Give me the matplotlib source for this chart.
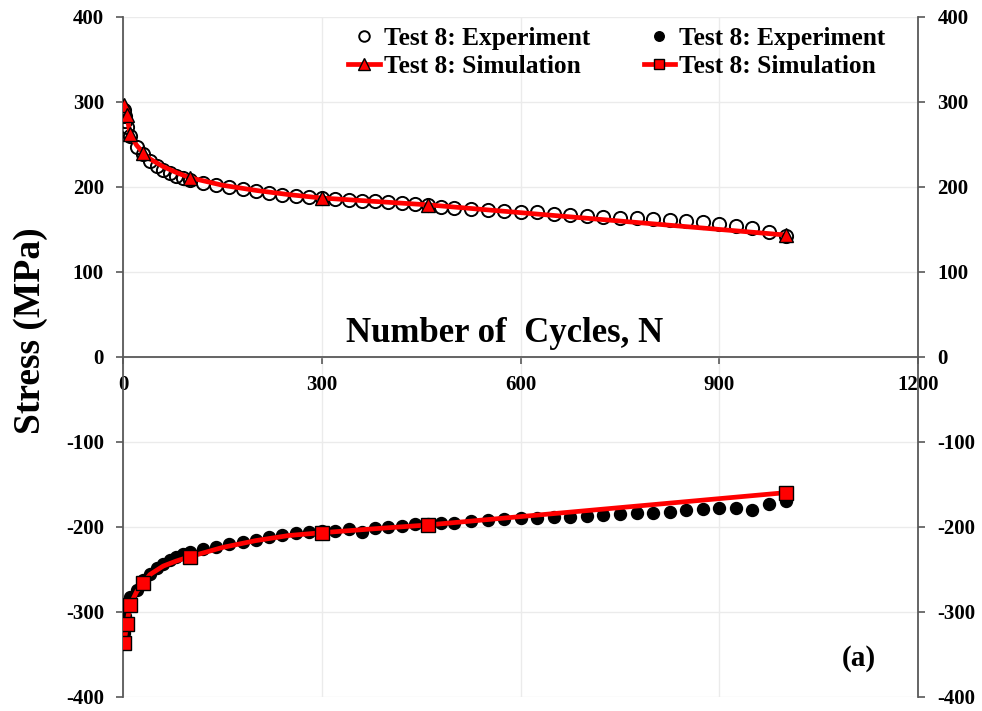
import matplotlib
matplotlib.use("Agg")
import matplotlib.pyplot as plt

plt.rcParams['font.family'] = ['Liberation Serif', 'DejaVu Serif']
plt.rcParams['font.weight'] = 'bold'
plt.rcParams['axes.unicode_minus'] = False

# Tension side (positive stress), Test 8 experiment
n_exp_top = [1, 2, 3, 5, 10, 20, 30, 40, 50, 60, 70, 80, 90, 100,
             120, 140, 160, 180, 200, 220, 240, 260, 280, 300, 320, 340,
             360, 380, 400, 420, 440, 460, 480, 500, 525, 550, 575, 600,
             625, 650, 675, 700, 725, 750, 775, 800, 825, 850, 875, 900,
             925, 950, 975, 1000]
s_exp_top = [290, 284, 278, 270, 260, 247, 239, 231, 225, 220, 216, 213, 210, 208,
             205, 202, 200, 198, 195, 193, 191, 189, 188, 187, 186, 185,
             184, 183, 182, 181.5, 180.5, 179, 177, 175, 174, 173, 172, 171,
             170, 168.5, 167, 166, 165, 164, 163, 162, 161, 160, 158.5, 156.5,
             154.5, 151.5, 147.5, 142]

# Compression side (negative stress), Test 8 experiment
n_exp_bot = n_exp_top
s_exp_bot = [-325, -312, -305, -290, -282, -274, -262, -255, -248, -243, -239, -235, -232, -230,
             -226, -223, -220.5, -218, -215, -211.5, -209, -207.5, -205.5, -205, -204.5, -202.5,
             -205.5, -201, -199.5, -199, -197, -196.5, -195.5, -195, -193.5, -192, -191, -190,
             -189, -188.5, -188, -186.5, -186, -184.5, -184, -183, -182, -180, -179, -178,
             -177.5, -180, -173.5, -169.5]

# Simulation curves
n_sim_curve = [1, 5, 10, 20, 30, 40, 60, 80, 100, 150, 200, 250, 300, 380, 460, 1000]
s_sim_curve_top = [296, 285, 262, 249, 240, 233, 224, 217, 211, 202, 196, 191, 187, 183, 179, 143.5]
s_sim_curve_bot = [-336, -314, -292, -276, -266, -256, -246, -240, -235, -224, -216, -210,
                   -206.7, -202, -197.6, -159.6]

# Simulation output points shown with markers
n_sim = [1, 5, 10, 30, 100, 300, 460, 1000]
s_sim_top = [296, 285, 262, 240, 211, 187, 179, 143.5]
s_sim_bot = [-336, -314, -292, -266, -235, -206.7, -197.6, -159.6]

x_ticks = [0, 300, 600, 900, 1200]
y_ticks = [-400, -300, -200, -100, 0, 100, 200, 300, 400]

legend_labels = ["Test 8: Experiment", "Test 8: Simulation",
                 "Test 8: Experiment", "Test 8: Simulation"]

fig = plt.figure(figsize=(9.82, 7.11), dpi=100)
ax = fig.add_axes([0.1257, 0.0197, 0.8091, 0.9564])

red = '#FF0000'
spine_col = '#595959'

h1, = ax.plot(n_exp_top, s_exp_top, linestyle='none', marker='o', markersize=9.5,
              markerfacecolor='none', markeredgecolor='black', markeredgewidth=1.4, zorder=3)
h3, = ax.plot(n_exp_bot, s_exp_bot, linestyle='none', marker='o', markersize=8.6,
              markerfacecolor='black', markeredgecolor='black', zorder=3)

ax.plot(n_sim_curve, s_sim_curve_top, color=red, linewidth=3.4, zorder=4,
        solid_capstyle='round')
ax.plot(n_sim_curve, s_sim_curve_bot, color=red, linewidth=3.4, zorder=4,
        solid_capstyle='round')

ax.plot(n_sim, s_sim_top, linestyle='none', marker='^', markersize=10.5,
        markerfacecolor=red, markeredgecolor='black', markeredgewidth=1.0, zorder=5)
ax.plot(n_sim, s_sim_bot, linestyle='none', marker='s', markersize=9.5,
        markerfacecolor=red, markeredgecolor='black', markeredgewidth=1.0, zorder=5)

# legend proxies: line + marker for simulation entries
h2, = ax.plot([], [], color=red, linewidth=3.4, marker='^', markersize=10.5,
              markerfacecolor=red, markeredgecolor='black', markeredgewidth=1.0)
h4, = ax.plot([], [], color=red, linewidth=3.4, marker='s', markersize=9.5,
              markerfacecolor=red, markeredgecolor='black', markeredgewidth=1.0)

ax.set_xlim(0, 1200)
ax.set_ylim(-400, 400)
ax.set_xticks(x_ticks)
ax.set_yticks(y_ticks)

ax.grid(True, color='#ebebeb', linewidth=1.0, zorder=0)
ax.set_axisbelow(True)

ax.spines['top'].set_visible(False)
ax.spines['bottom'].set_position(('data', 0))
for side in ['bottom', 'left', 'right']:
    ax.spines[side].set_color(spine_col)
    ax.spines[side].set_linewidth(1.3)

ax.tick_params(axis='y', which='both', direction='out', length=5, width=1.2,
               color=spine_col, left=True, right=True, labelleft=True, labelright=True,
               labelsize=15, pad=9)
ax.tick_params(axis='x', direction='out', length=5, width=1.2, color=spine_col,
               labelsize=15, pad=8)
for lab in ax.get_xticklabels() + ax.get_yticklabels():
    lab.set_fontweight('bold')

ax.set_ylabel("Stress (MPa)", fontsize=27, fontweight='bold')
ax.yaxis.set_label_coords(-0.095, 0.538)

ax.text(0.48, 0.535, "Number of  Cycles, N", transform=ax.transAxes,
        fontsize=25, fontweight='bold', ha='center', va='center')
ax.text(0.926, 0.057, "(a)", transform=ax.transAxes,
        fontsize=21, fontweight='bold', ha='center', va='center')

leg = ax.legend([h1, h2, h3, h4], legend_labels, ncol=2, loc='upper left',
                bbox_to_anchor=(0.2827, 0.985), frameon=False, fontsize=18.3,
                handlelength=1.25, handletextpad=0.16, columnspacing=2.1,
                labelspacing=0.2, markerscale=0.8, borderaxespad=0.0,
                borderpad=0.0)
for t in leg.get_texts():
    t.set_fontweight('bold')

fig.savefig("out.png", dpi=100, facecolor='white')
